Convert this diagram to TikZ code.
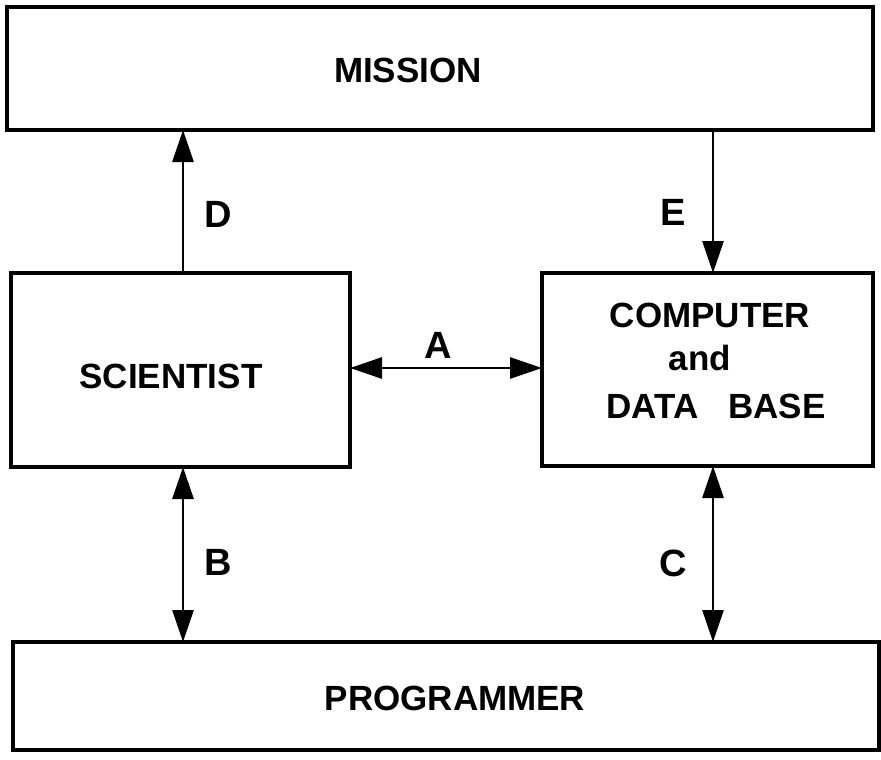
\documentclass[tikz,border=0pt]{standalone}
\usepackage{fontspec}
\setmainfont{Liberation Sans}
\usetikzlibrary{arrows.meta}

\begin{document}
\begin{tikzpicture}[x=1pt,y=-1pt,
  box/.style={draw=black, line width=3.2pt, inner sep=0pt, outer sep=0pt, fill=none},
  txt/.style={anchor=base, inner sep=0pt, font=\fontsize{35}{42}\selectfont\bfseries},
  tag/.style={anchor=base, inner sep=0pt, font=\fontsize{38}{44}\selectfont\bfseries},
  flow/.style={line width=2.8pt, -{Triangle[length=32pt,width=21pt]}},
  biflow/.style={line width=2.8pt, {Triangle[length=32pt,width=21pt]}-{Triangle[length=32pt,width=21pt]}}
]
\useasboundingbox[fill=white] (0,0) rectangle (881,760);

% boxes
\node[box, minimum width=866pt, minimum height=123pt] (mission) at (440,68.5) {};
\node[box, minimum width=339pt, minimum height=194pt] (sci) at (180.5,370) {};
\node[box, minimum width=331pt, minimum height=193pt] (comp) at (707.5,369.5) {};
\node[box, minimum width=866pt, minimum height=108pt] (prog) at (446,696) {};

% box texts
\node[txt] (missiontxt) at (408,83) {MISSION};
\node[txt] (scitxt) at (171,388) {SCIENTIST};
\node[txt] (comptxt1) at (710,327) {COMPUTER};
\node[txt] (comptxt2) at (700,370) {and};
\node[txt] (comptxt3) at (716,418) {DATA\hspace{30pt}BASE};
\node[txt] (progtxt) at (455,710) {PROGRAMMER};

% column and row guides for the connectors
\coordinate (colL) at (183,0);
\coordinate (colR) at (713,0);
\coordinate (rowA) at (0,368);

% connectors
\draw[flow] (sci.north -| colL) -- (mission.south -| colL);
\draw[flow] (mission.south -| colR) -- (comp.north -| colR);
\draw[biflow] (sci.east |- rowA) -- (comp.west |- rowA);
\draw[biflow] (sci.south -| colL) -- (prog.north -| colL);
\draw[biflow] (comp.south -| colR) -- (prog.north -| colR);

% connector labels
\node[tag] (lblD) at (218,227) {D};
\node[tag] (lblE) at (673,225) {E};
\node[tag] (lblA) at (438,358) {A};
\node[tag] (lblB) at (218,575) {B};
\node[tag] (lblC) at (673,576) {C};
\end{tikzpicture}
\end{document}
